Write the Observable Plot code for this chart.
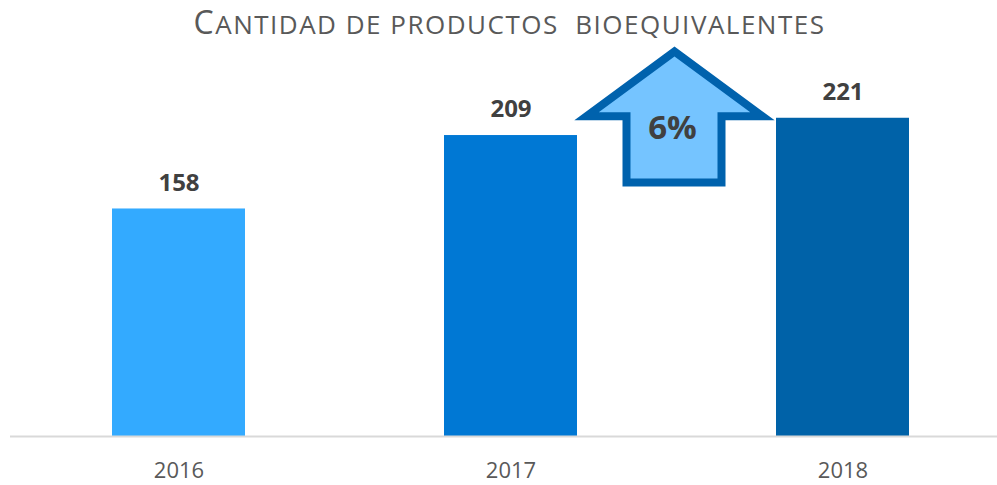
<!DOCTYPE html>
<html>
<head>
<meta charset="utf-8">
<script src="https://cdn.jsdelivr.net/npm/d3@7"></script>
<script src="https://cdn.jsdelivr.net/npm/@observablehq/plot@0.6"></script>
<style>
  html, body { margin: 0; padding: 0; background: #ffffff; }
  #wrap { width: 997px; height: 485px; overflow: hidden; }
  #title {
    width: 997px; height: 44px; box-sizing: border-box; padding-left: 22px;
    text-align: center; font-family: "Open Sans", sans-serif; font-size: 26px;
    line-height: 48px; letter-spacing: 1.5px; color: #595959; white-space: pre;
  }
  #title .big { font-size: 32px; line-height: 1; }
</style>
</head>
<body>
<div id="wrap">
  <div id="title"><span class="big">C</span>ANTIDAD DE PRODUCTOS  BIOEQUIVALENTES</div>
  <div id="chart"></div>
</div>
<script>
const years = ["2016", "2017", "2018"];
const values = [158, 209, 221];
const barColors = ["#33aaff", "#0078d4", "#0062a8"];
const growthLabel = ["6%"];

const data = years.map((year, i) => ({year, value: values[i]}));

// Arrow annotation between 2017 and 2018, drawn with the chart's scales
function growthArrow(index, scales) {
  const x = scales.x, y = scales.y;
  const bw = x.bandwidth();
  const cx = (x("2017") + x("2018") + bw) / 2 - 2;
  const yTip = y(267), yWing = y(222), yBase = y(176);
  const pts = [
    [cx, yTip], [cx + 88, yWing], [cx + 47, yWing], [cx + 47, yBase],
    [cx - 48, yBase], [cx - 48, yWing], [cx - 88, yWing]
  ];
  const g = d3.create("svg:g");
  g.append("path")
    .attr("d", "M" + pts.map(p => p.join(",")).join("L") + "Z")
    .attr("fill", "#75c4ff")
    .attr("stroke", "#0062ad")
    .attr("stroke-width", 8)
    .attr("stroke-linejoin", "miter");
  g.append("text")
    .attr("x", cx - 2)
    .attr("y", y(214))
    .attr("dy", "0.35em")
    .attr("text-anchor", "middle")
    .attr("font-family", "Open Sans, sans-serif")
    .attr("font-weight", "bold")
    .attr("font-size", 33)
    .attr("fill", "#404040")
    .text(growthLabel[0]);
  return g.node();
}

const chart = Plot.plot({
  width: 997,
  height: 441,
  marginLeft: 10,
  marginRight: 0,
  marginTop: 32,
  marginBottom: 49,
  style: {fontFamily: "Open Sans, sans-serif", background: "#ffffff", overflow: "visible"},
  x: {domain: years, paddingInner: 0.6, paddingOuter: 0.282, align: 0.538, label: null},
  y: {domain: [0, 250], axis: null},
  color: {domain: years, range: barColors},
  marks: [
    Plot.barY(data, {x: "year", y: "value", fill: "year"}),
    Plot.ruleY([0], {stroke: "#d9d9d9", strokeWidth: 2}),
    Plot.text(data, {
      x: "year", y: "value", text: d => String(d.value), dy: -26,
      fontWeight: "bold", fontSize: 24, fill: "#404040"
    }),
    growthArrow,
    Plot.axisX({tickSize: 0, tickPadding: 26, fontSize: 22, fill: "#595959", label: null})
  ]
});
document.getElementById("chart").appendChild(chart);
</script>
</body>
</html>
